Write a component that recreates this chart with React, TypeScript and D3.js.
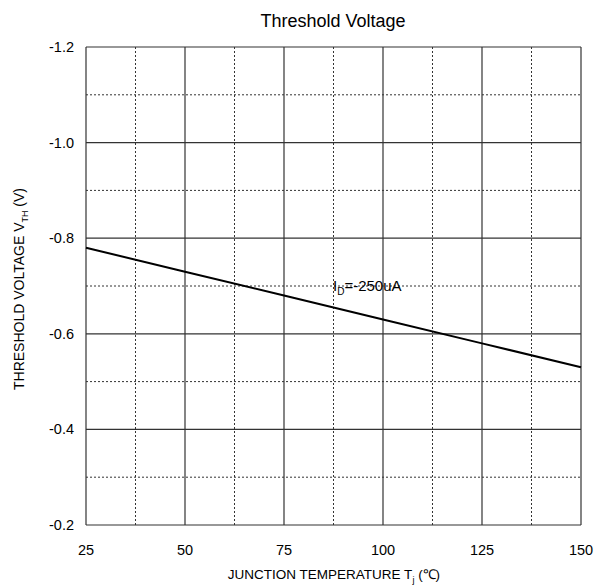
import React from 'react';
import * as d3 from 'd3';

// Threshold voltage vs junction temperature
const temps = [25, 50, 75, 100, 125, 150];
const vth = [-0.78, -0.73, -0.68, -0.63, -0.58, -0.53];
const xTicks = [25, 50, 75, 100, 125, 150];
const yTicks = [-0.2, -0.4, -0.6, -0.8, -1.0, -1.2];

const W = 604;
const H = 586;
const margin = { top: 47, right: 23, bottom: 61, left: 86 };

const App = () => {
  const x = d3
    .scaleLinear()
    .domain([25, 150])
    .range([margin.left, W - margin.right]);
  const y = d3
    .scaleLinear()
    .domain([-0.2, -1.2])
    .range([H - margin.bottom, margin.top]);

  const line = d3
    .line<number>()
    .x((d, i) => x(temps[i]))
    .y((d) => y(d));

  const minorX = d3.range(37.5, 150, 25);
  const minorY = d3.range(-0.3, -1.2, -0.2);
  const font = 'Arial, "Liberation Sans", sans-serif';
  const grid = '#333';

  return (
    <div style={{ position: 'absolute', left: 0, top: 0 }}>
      <svg width={W} height={H} style={{ display: 'block' }} fontFamily={font}>
        <rect width={W} height={H} fill="#fff" />
        <text x={333} y={27} textAnchor="middle" fontSize={18} fill="#000">
          Threshold Voltage
        </text>

        {/* dotted minor grid */}
        {minorX.map((t) => (
          <line key={'mx' + t} x1={x(t)} x2={x(t)} y1={y(-1.2)} y2={y(-0.2)} stroke={grid} strokeWidth={1} strokeDasharray="2,2" />
        ))}
        {minorY.map((t) => (
          <line key={'my' + t} x1={x(25)} x2={x(150)} y1={y(t)} y2={y(t)} stroke={grid} strokeWidth={1} strokeDasharray="2,2" />
        ))}

        {/* solid major grid */}
        {xTicks.map((t) => (
          <line key={'gx' + t} x1={x(t)} x2={x(t)} y1={y(-1.2)} y2={y(-0.2)} stroke={grid} strokeWidth={1.2} />
        ))}
        {yTicks.map((t) => (
          <line key={'gy' + t} x1={x(25)} x2={x(150)} y1={y(t)} y2={y(t)} stroke={grid} strokeWidth={1.2} />
        ))}

        {/* tick labels */}
        {xTicks.map((t) => (
          <text key={'tx' + t} x={x(t)} y={y(-0.2) + 30} textAnchor="middle" fontSize={14.5} fill="#000">
            {t}
          </text>
        ))}
        {yTicks.map((t) => (
          <text key={'ty' + t} x={x(25) - 12} y={y(t) + 5} textAnchor="end" fontSize={14.5} fill="#000">
            {t.toFixed(1)}
          </text>
        ))}

        {/* data */}
        <path d={line(vth) || ''} fill="none" stroke="#000" strokeWidth={2} />

        <text x={333} y={291} fontSize={15} fill="#000">
          I<tspan fontSize={10} dy={4}>D</tspan>
          <tspan dy={-4}>=-250uA</tspan>
        </text>

        {/* axis titles */}
        <text x={334} y={579} textAnchor="middle" fontSize={13.5} fill="#000">
          JUNCTION TEMPERATURE T<tspan fontSize={9} dy={4}>j</tspan>
          <tspan dy={-4}> (℃)</tspan>
        </text>
        <text transform="translate(24,289) rotate(-90)" textAnchor="middle" fontSize={14} fill="#000">
          THRESHOLD VOLTAGE V<tspan fontSize={9} dy={4}>TH</tspan>
          <tspan dy={-4}> (V)</tspan>
        </text>
      </svg>
    </div>
  );
};

export default App;
